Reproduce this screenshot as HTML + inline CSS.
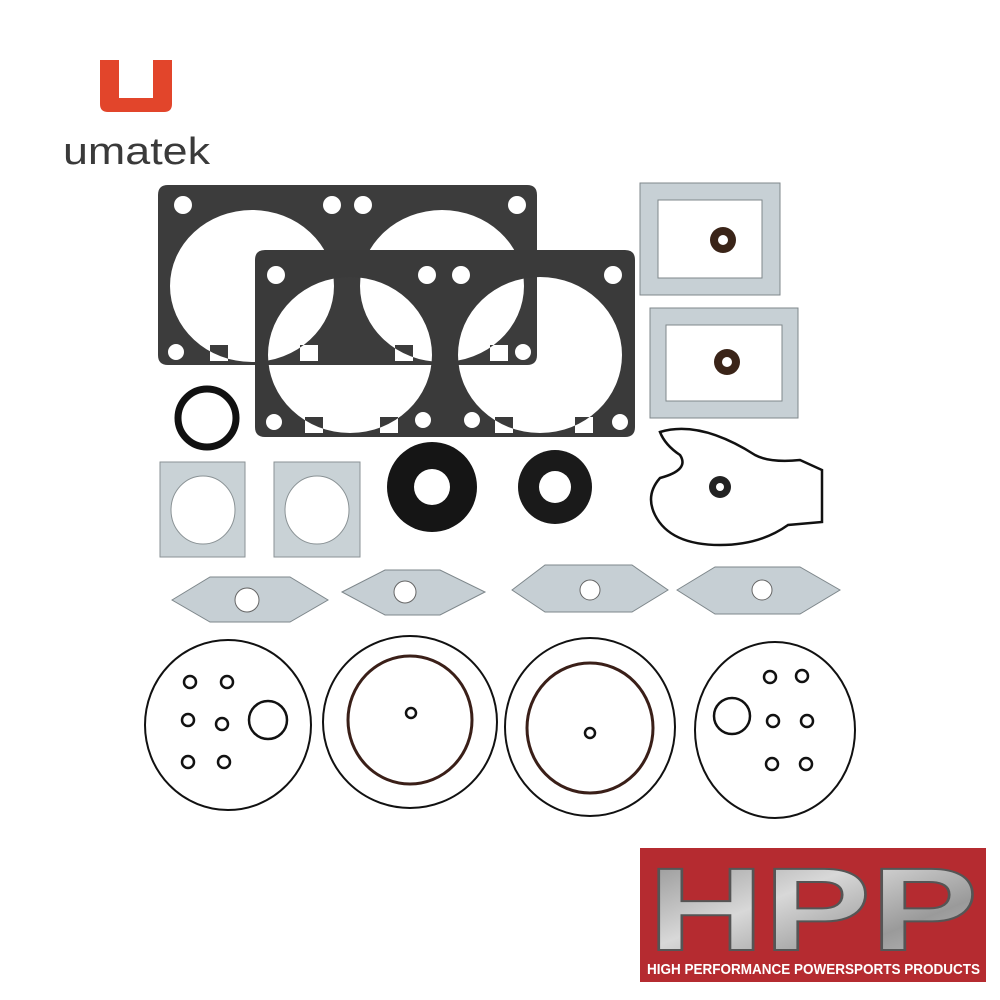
<!DOCTYPE html>
<html><head><style>
html,body{margin:0;padding:0;background:#fff;}
body{width:1000px;height:1000px;position:relative;overflow:hidden;font-family:"Liberation Sans",sans-serif;}
</style></head><body>
<svg width="1000" height="1000" viewBox="0 0 1000 1000" xmlns="http://www.w3.org/2000/svg" style="position:absolute;left:0;top:0">
<defs>
<linearGradient id="met" x1="0" x2="1" y1="0" y2="1">
<stop offset="0" stop-color="#8a8a8a"/><stop offset="0.4" stop-color="#d8d8d8"/><stop offset="0.7" stop-color="#9a9a9a"/><stop offset="1" stop-color="#c8c8c8"/></linearGradient>
</defs>
<!-- umatek logo -->
<path d="M100 60 H119 V98 H153 V60 H172 V104 Q172 112 164 112 H108 Q100 112 100 104 Z" fill="#e2452b"/>
<text x="63" y="164" font-size="38" fill="#3a3a3a" font-family="Liberation Sans, sans-serif" textLength="147" lengthAdjust="spacingAndGlyphs">umatek</text>

<!-- back cylinder gasket -->
<path fill-rule="evenodd" fill="#3c3c3c" d="
M168 185 H527 Q537 185 537 195 V355 Q537 365 527 365 H168 Q158 365 158 355 V195 Q158 185 168 185 Z
M252 208 m-82 78 a82 76 0 1 0 164 0 a82 76 0 1 0 -164 0 Z
M442 208 m-82 78 a82 76 0 1 0 164 0 a82 76 0 1 0 -164 0 Z
M174 205 a9 9 0 1 0 18 0 a9 9 0 1 0 -18 0 Z
M323 205 a9 9 0 1 0 18 0 a9 9 0 1 0 -18 0 Z
M354 205 a9 9 0 1 0 18 0 a9 9 0 1 0 -18 0 Z
M508 205 a9 9 0 1 0 18 0 a9 9 0 1 0 -18 0 Z
M168 352 a8 8 0 1 0 16 0 a8 8 0 1 0 -16 0 Z
M210 345 h18 v16 h-18 Z
M300 345 h18 v16 h-18 Z
M395 345 h18 v16 h-18 Z
M490 345 h18 v16 h-18 Z
M515 352 a8 8 0 1 0 16 0 a8 8 0 1 0 -16 0 Z"/>
<!-- front cylinder gasket -->
<path fill-rule="evenodd" fill="#3a3a3a" d="
M265 250 H625 Q635 250 635 260 V427 Q635 437 625 437 H265 Q255 437 255 427 V260 Q255 250 265 250 Z
M350 275 m-82 80 a82 78 0 1 0 164 0 a82 78 0 1 0 -164 0 Z
M540 275 m-82 80 a82 78 0 1 0 164 0 a82 78 0 1 0 -164 0 Z
M267 275 a9 9 0 1 0 18 0 a9 9 0 1 0 -18 0 Z
M418 275 a9 9 0 1 0 18 0 a9 9 0 1 0 -18 0 Z
M452 275 a9 9 0 1 0 18 0 a9 9 0 1 0 -18 0 Z
M604 275 a9 9 0 1 0 18 0 a9 9 0 1 0 -18 0 Z
M266 422 a8 8 0 1 0 16 0 a8 8 0 1 0 -16 0 Z
M305 417 h18 v16 h-18 Z
M380 417 h18 v16 h-18 Z
M415 420 a8 8 0 1 0 16 0 a8 8 0 1 0 -16 0 Z
M464 420 a8 8 0 1 0 16 0 a8 8 0 1 0 -16 0 Z
M495 417 h18 v16 h-18 Z
M575 417 h18 v16 h-18 Z
M612 422 a8 8 0 1 0 16 0 a8 8 0 1 0 -16 0 Z"/>
<!-- o-ring -->
<circle cx="207" cy="418" r="29" fill="none" stroke="#111" stroke-width="7"/>

<!-- head gaskets -->
<g fill="#c9d2d6" stroke="#8a9295" stroke-width="1">
<path fill-rule="evenodd" d="M160 462 h85 v95 h-85 Z M203 510 m-32 0 a32 34 0 1 0 64 0 a32 34 0 1 0 -64 0 Z"/>
<path fill-rule="evenodd" d="M274 462 h86 v95 h-86 Z M317 510 m-32 0 a32 34 0 1 0 64 0 a32 34 0 1 0 -64 0 Z"/>
</g>
<!-- seals -->
<circle cx="432" cy="487" r="45" fill="#151515"/><circle cx="432" cy="487" r="18" fill="#fff"/>
<circle cx="555" cy="487" r="37" fill="#1a1a1a"/><circle cx="555" cy="487" r="16" fill="#fff"/>

<!-- reed gaskets -->
<g fill="#c7d0d5" stroke="#7f878b">
<path fill-rule="evenodd" d="M640 183 h140 v112 h-140 Z M658 200 h104 v78 h-104 Z"/>
<path fill-rule="evenodd" d="M650 308 h148 v110 h-148 Z M666 325 h116 v76 h-116 Z"/>
</g>
<circle cx="723" cy="240" r="13" fill="#3a2418"/><circle cx="723" cy="240" r="5" fill="#fff"/>
<circle cx="727" cy="362" r="13" fill="#3a2418"/><circle cx="727" cy="362" r="5" fill="#fff"/>
<!-- outline o-ring shape -->
<path d="M660 432 Q700 420 755 455 Q770 463 800 460 L822 470 L822 522 L788 525 Q760 545 720 545 Q670 545 655 515 Q645 495 660 478 Q690 470 680 455 Q665 445 660 432 Z" fill="none" stroke="#111" stroke-width="2.5"/>
<circle cx="720" cy="487" r="11" fill="#222"/><circle cx="720" cy="487" r="4" fill="#fff"/>

<!-- diamond gaskets -->
<g fill="#c6cfd4" stroke="#7e878b">
<path d="M172 600 L210 577 H290 L328 600 L290 622 H210 Z"/>
<path d="M342 592 L385 570 H440 L485 592 L440 615 H385 Z"/>
<path d="M512 590 L545 565 H632 L668 590 L632 612 H545 Z"/>
<path d="M677 590 L715 567 H800 L840 590 L800 614 H715 Z"/>
</g>
<g fill="#fff" stroke="#666">
<circle cx="247" cy="600" r="12"/><circle cx="405" cy="592" r="11"/><circle cx="590" cy="590" r="10"/><circle cx="762" cy="590" r="10"/>
</g>

<!-- big o-ring groups -->
<g fill="none" stroke="#111" stroke-width="2">
<ellipse cx="228" cy="725" rx="83" ry="85"/>
<ellipse cx="410" cy="722" rx="87" ry="86"/>
<ellipse cx="590" cy="727" rx="85" ry="89"/>
<ellipse cx="775" cy="730" rx="80" ry="88"/>
</g>
<g fill="none" stroke="#3a1f18" stroke-width="3">
<ellipse cx="410" cy="720" rx="62" ry="64"/>
<ellipse cx="590" cy="728" rx="63" ry="65"/>
</g>
<g fill="none" stroke="#111" stroke-width="2.5">
<circle cx="190" cy="682" r="6"/><circle cx="227" cy="682" r="6"/>
<circle cx="188" cy="720" r="6"/><circle cx="222" cy="724" r="6"/>
<circle cx="188" cy="762" r="6"/><circle cx="224" cy="762" r="6"/>
<circle cx="268" cy="720" r="19"/>
<circle cx="411" cy="713" r="5"/><circle cx="590" cy="733" r="5"/>
<circle cx="770" cy="677" r="6"/><circle cx="802" cy="676" r="6"/>
<circle cx="773" cy="721" r="6"/><circle cx="807" cy="721" r="6"/>
<circle cx="772" cy="764" r="6"/><circle cx="806" cy="764" r="6"/>
<circle cx="732" cy="716" r="18"/>
</g>

<!-- HPP logo -->
<rect x="640" y="848" width="346" height="134" fill="#b52b30"/>
<text x="648" y="950" font-size="118" font-weight="bold" fill="url(#met)" stroke="#555" stroke-width="2" font-family="Liberation Sans, sans-serif" textLength="330" lengthAdjust="spacingAndGlyphs">HPP</text>
<text x="647" y="974" font-size="15" font-weight="bold" fill="#fff" font-family="Liberation Sans, sans-serif" textLength="333" lengthAdjust="spacingAndGlyphs">HIGH PERFORMANCE POWERSPORTS PRODUCTS</text>
</svg>
</body></html>
